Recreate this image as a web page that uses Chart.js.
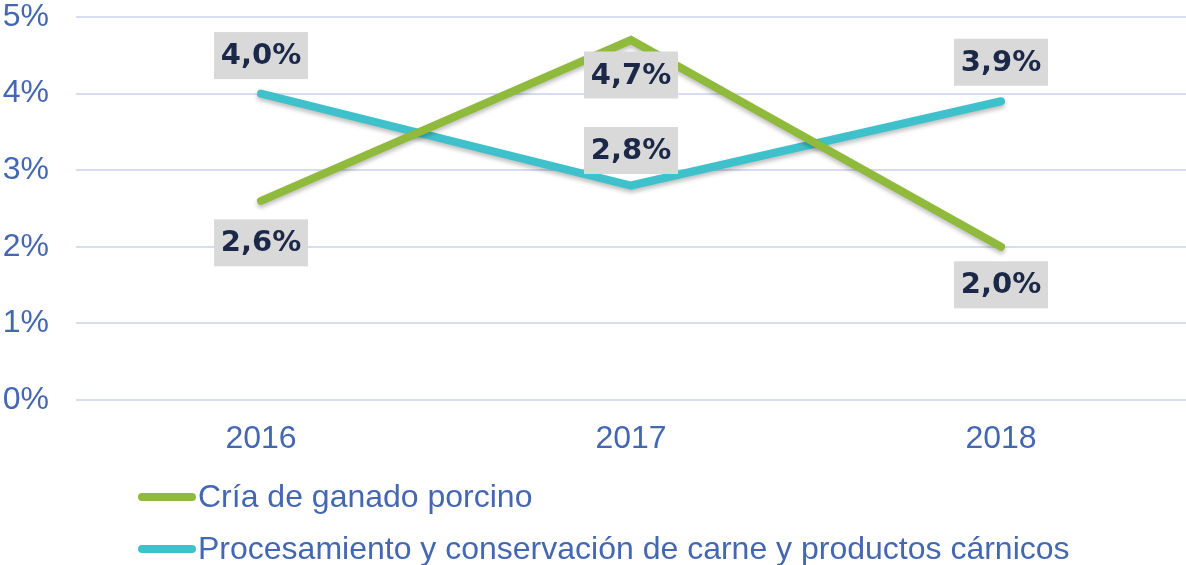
<!DOCTYPE html>
<html>
<head>
<meta charset="utf-8">
<script src="https://cdn.jsdelivr.net/npm/chart.js@4"></script>
<style>
  html, body { margin: 0; padding: 0; background: #fff; }
  #wrap { width: 1186px; height: 565px; position: relative; }
</style>
</head>
<body>
<div id="wrap"><canvas id="chart"></canvas></div>
<script>
const years = ['2016', '2017', '2018'];
const porcino = [2.6, 4.7, 2.0];
const carnicos = [4.0, 2.8, 3.9];
const seriesNames = [
    'Cría de ganado porcino',
    'Procesamiento y conservación de carne y productos cárnicos'
];
const yTicks = [0, 1, 2, 3, 4, 5];

const blueText = '#4467b3';
const green = '#8fba3b';
const teal = '#3ec1cb';
const axisFont = '"Liberation Sans", Arial';

// value boxes: green under the line, teal above
const boxOffsets = [[42, 35, 38], [-38, -35, -39]];
const labelPlugin = {
    id: 'valueBoxes',
    afterDatasetsDraw(chart) {
        const ctx = chart.ctx;
        ctx.save();
        ctx.font = 'bold 29px "DejaVu Sans"';
        ctx.textAlign = 'center';
        ctx.textBaseline = 'middle';
        chart.data.datasets.forEach((ds, i) => {
            chart.getDatasetMeta(i).data.forEach((pt, j) => {
                const txt = ds.data[j].toFixed(1).replace('.', ',') + '%';
                const w = 94, h = 47;
                const cy = pt.y + boxOffsets[i][j];
                ctx.fillStyle = '#d9d9d9';
                ctx.fillRect(pt.x - w / 2, cy - h / 2, w, h);
                ctx.fillStyle = '#1b2847';
                ctx.fillText(txt, pt.x, cy + 1);
            });
        });
        ctx.restore();
    }
};

// soft shadow under the lines
const shadowPlugin = {
    id: 'lineShadow',
    beforeDatasetsDraw(chart) {
        const ctx = chart.ctx;
        ctx.save();
        ctx.shadowColor = 'rgba(0,0,0,0.25)';
        ctx.shadowBlur = 4;
        ctx.shadowOffsetY = 3;
    },
    afterDatasetsDraw(chart) {
        chart.ctx.restore();
    }
};

// legend drawn by hand, left aligned under the axis
const legendPlugin = {
    id: 'bottomLegend',
    afterDraw(chart) {
        const ctx = chart.ctx;
        ctx.save();
        ctx.font = '32px ' + axisFont;
        ctx.textBaseline = 'middle';
        ctx.lineCap = 'round';
        ctx.lineWidth = 8;
        const colors = [green, teal];
        const rows = [497, 549];
        seriesNames.forEach((name, i) => {
            ctx.strokeStyle = colors[i];
            ctx.beginPath();
            ctx.moveTo(142, rows[i]);
            ctx.lineTo(192, rows[i]);
            ctx.stroke();
            ctx.fillStyle = blueText;
            ctx.fillText(name, 198, rows[i] + 1);
        });
        ctx.restore();
    }
};

new Chart(document.getElementById('chart'), {
    type: 'line',
    data: {
        labels: years,
        datasets: [
            {
                label: seriesNames[0],
                data: porcino,
                borderColor: green,
                backgroundColor: green,
                borderWidth: 8,
                borderCapStyle: 'round',
                pointRadius: 0,
                tension: 0
            },
            {
                label: seriesNames[1],
                data: carnicos,
                borderColor: teal,
                backgroundColor: teal,
                borderWidth: 8,
                borderCapStyle: 'round',
                pointRadius: 0,
                tension: 0
            }
        ]
    },
    options: {
        responsive: true,
        maintainAspectRatio: false,
        animation: false,
        layout: { padding: { top: 17, right: 0, bottom: 105, left: 0 } },
        plugins: {
            legend: { display: false },
            tooltip: { enabled: false }
        },
        scales: {
            x: {
                offset: true,
                grid: { display: false, drawTicks: false },
                border: { display: false },
                afterFit(axis) {
                    axis.height = 60;
                },
                ticks: {
                    color: blueText,
                    font: { family: axisFont, size: 32 },
                    padding: 20
                }
            },
            y: {
                min: 0,
                max: 5,
                afterBuildTicks(axis) {
                    axis.ticks = yTicks.map(v => ({ value: v }));
                },
                afterFit(axis) {
                    axis.width = 76;
                    axis.paddingTop = 0;
                    axis.paddingBottom = 0;
                },
                grid: { color: '#d6ddf0', lineWidth: 2, drawTicks: false },
                border: { display: false },
                ticks: {
                    color: blueText,
                    font: { family: axisFont, size: 32 },
                    padding: 27,
                    callback: v => v + '%'
                }
            }
        }
    },
    plugins: [shadowPlugin, labelPlugin, legendPlugin]
});
</script>
</body>
</html>
